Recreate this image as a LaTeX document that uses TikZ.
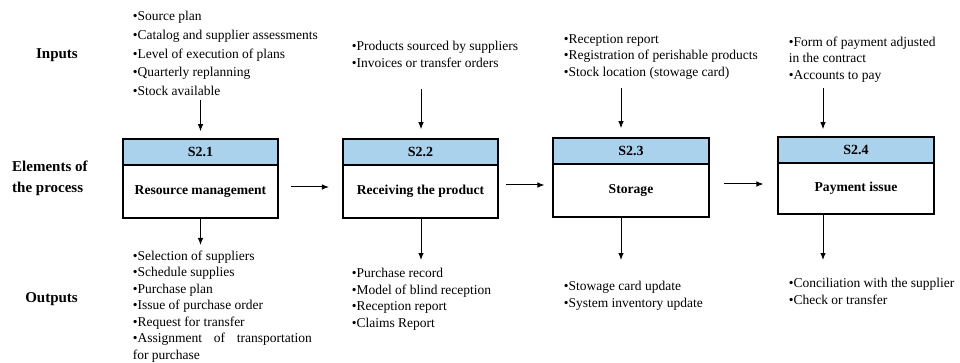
\documentclass[tikz,border=0pt]{standalone}
\usepackage{fontspec}
\setmainfont{Liberation Serif}
\usetikzlibrary{arrows.meta,calc}
\definecolor{hdr}{RGB}{170,210,236}
\begin{document}
\begin{tikzpicture}[x=1pt,y=-1pt,
  lst/.style={anchor=north west,inner sep=0pt,align=left,font=\fontsize{13.5}{16.5}\selectfont},
  lstwide/.style={lst,font=\fontsize{13.5}{18.7}\selectfont},
  lbl/.style={inner sep=0pt,align=left,font=\fontsize{15}{21}\selectfont\bfseries},
  hd/.style={draw=black,line width=1.6pt,fill=hdr,minimum width=155.5pt,minimum height=26pt,inner sep=0pt,font=\fontsize{14}{16}\selectfont\bfseries},
  boxo/.style={draw=black,line width=1.6pt,minimum width=155.5pt,inner sep=0pt},
  body/.style={inner sep=0pt,font=\fontsize{13.6}{16}\selectfont\bfseries},
  arr/.style={line width=1pt,-{Latex[length=7pt,width=5.5pt]}}
]
\useasboundingbox (0,0) rectangle (960,363);

% left labels
\node[lbl,anchor=east] (linp) at (78,55) {Inputs};
\node[lbl,anchor=west] (lel) at (12,178.5) {Elements of\\the process};
\node[lbl,anchor=east] (lout) at (78,299) {Outputs};

% headers
\node[hd] (h1) at (200.5,152) {S2.1};
\node[hd] (h2) at (420.5,152) {S2.2};
\node[hd] (h3) at (631,151) {S2.3};
\node[hd] (h4) at (856,150) {S2.4};
% boxes
\node[boxo,minimum height=79pt] (b1) at (200.5,178.5) {};
\node[boxo,minimum height=79pt] (b2) at (420.5,178.5) {};
\node[boxo,minimum height=79pt] (b3) at (631,177.5) {};
\node[boxo,minimum height=77pt] (b4) at (856,175.5) {};
% body texts
\node[body] (t1) at (200.5,191.5) {Resource management};
\node[body] (t2) at (420.5,191.5) {Receiving the product};
\node[body] (t3) at (631,190.5) {Storage};
\node[body] (t4) at (856,188.5) {Payment issue};

% input lists
\node[lstwide] (in1) at (132.6,11.3) {•Source plan\\•Catalog and supplier assessments\\•Level of execution of plans\\•Quarterly replanning\\•Stock available};
\node[lst] (in2) at (351.6,41.3) {•Products sourced by suppliers\\•Invoices or transfer orders};
\node[lst] (in3) at (563.6,34.3) {•Reception report\\•Registration of perishable products\\•Stock location (stowage card)};
\node[lst] (in4) at (788.6,36.3) {•Form of payment adjusted\\in the contract\\•Accounts to pay};

% output lists
\node[lst] (out1) at (132.6,250.3) {•Selection of suppliers\\•Schedule supplies\\•Purchase plan\\•Issue of purchase order\\•Request for transfer\\\makebox[179pt][s]{•Assignment of transportation}\\for purchase};
\node[lst] (out2) at (351.6,268.3) {•Purchase record\\•Model of blind reception\\•Reception report\\•Claims Report};
\node[lst] (out3) at (563.6,281.3) {•Stowage card update\\•System inventory update};
\node[lst] (out4) at (788.6,278.3) {•Conciliation with the supplier\\•Check or transfer};

% arrow anchor coordinates
\coordinate (a1) at (200.5,100);
\coordinate (a2) at (421,89);
\coordinate (a3) at (621,88);
\coordinate (a4) at (823,88);
\coordinate (o1) at (200.5,245);
\coordinate (o2) at (421,260);
\coordinate (o3) at (621,260);
\coordinate (o4) at (823,260);

% input arrows
\draw[arr,shorten >=7pt] (a1) -- (a1 |- h1.north);
\draw[arr,shorten >=9pt] (a2) -- (a2 |- h2.north);
\draw[arr,shorten >=9pt] (a3) -- (a3 |- h3.north);
\draw[arr,shorten >=7pt] (a4) -- (a4 |- h4.north);
% output arrows
\draw[arr] (o1 |- b1.south) -- (o1);
\draw[arr] (o2 |- b2.south) -- (o2);
\draw[arr] (o3 |- b3.south) -- (o3);
\draw[arr] (o4 |- b4.south) -- (o4);
% flow arrows
\draw[arr] ([xshift=12pt,yshift=-8.5pt]b1.east) -- ([xshift=-13pt,yshift=-8.5pt]b2.west);
\draw[arr] ([xshift=7pt,yshift=-6.5pt]b2.east) -- ([xshift=-8pt,yshift=-7.5pt]b3.west);
\draw[arr] ([xshift=14pt,yshift=-6.5pt]b3.east) -- ([xshift=-14pt,yshift=-8.5pt]b4.west);
\end{tikzpicture}
\end{document}
